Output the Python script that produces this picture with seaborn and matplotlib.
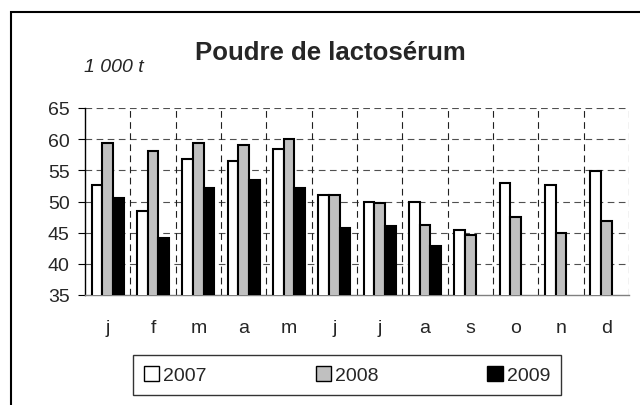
import numpy as np
import pandas as pd
import matplotlib
matplotlib.use("Agg")
import matplotlib.pyplot as plt
from matplotlib.patches import Rectangle
import seaborn as sns

# ----------------------------------------------------------------------
# data (1 000 t)
# ----------------------------------------------------------------------
months = ["j", "f", "m", "a", "m", "j", "j", "a", "s", "o", "n", "d"]
years = ["2007", "2008", "2009"]
v2007 = [52.6, 48.4, 56.8, 56.5, 58.4, 51.0, 50.0, 50.0, 45.5, 52.9, 52.6, 54.9]
v2008 = [59.4, 58.1, 59.4, 59.0, 60.0, 51.0, 49.8, 46.2, 44.6, 47.5, 44.9, 46.8]
v2009 = [50.5, 44.1, 52.1, 53.5, 52.1, 45.7, 46.1, 42.9, np.nan, np.nan, np.nan, np.nan]
colors = ["#FFFFFF", "#C0C0C0", "#000000"]

df = pd.DataFrame({"pos": range(len(months)), "2007": v2007, "2008": v2008, "2009": v2009})
long = df.melt(id_vars="pos", var_name="year", value_name="value").dropna()

sns.set_style("white")
plt.rcParams["font.family"] = ["Liberation Sans", "DejaVu Sans"]

fig = plt.figure(figsize=(6.4, 4.06), dpi=100)
ax = fig.add_axes([85 / 640, 1 - 296 / 406, (629 - 85) / 640, (296 - 109) / 406])

sns.barplot(data=long, x="pos", y="value", hue="year", hue_order=years,
            palette=colors, width=0.7, edgecolor="black", linewidth=1.5,
            saturation=1, legend=False, ax=ax, zorder=3)

ax.set_ylim(35, 65)
ax.set_xlim(-0.5, len(months) - 0.5)
ax.set_yticks(range(35, 66, 5))
ax.set_xticks(range(len(months)))
ax.set_xticklabels(months)
ax.set_xlabel("")
ax.set_ylabel("")

# dashed grid: horizontal at each 5, vertical at month boundaries
for yv in range(40, 66, 5):
    ax.axhline(yv, color="#505050", lw=0.8, ls=(0, (6, 4)), zorder=1)
for xv in np.arange(0.5, len(months), 1.0):
    ax.axvline(xv, color="#202020", lw=0.8, ls=(0, (6, 4)), zorder=1)

ax.set_xticks(np.arange(0.5, len(months), 1.0), minor=True)
ax.tick_params(axis="x", which="major", length=0, pad=17, labelsize=14)
ax.tick_params(axis="x", which="minor", direction="inout", length=9,
               width=0.8, color="#404040")
ax.tick_params(axis="y", direction="out", length=5, width=0.8, color="black",
               pad=6, labelsize=14, left=True)

for side in ["top", "right"]:
    ax.spines[side].set_visible(False)
ax.spines["left"].set_color("black")
ax.spines["left"].set_linewidth(1.0)
ax.spines["bottom"].set_color("#808080")
ax.spines["bottom"].set_linewidth(1.0)

fig.text(330 / 640, 1 - 53 / 406, "Poudre de lactosérum", ha="center", va="center",
         fontsize=18.5, fontweight="bold")
fig.text(114 / 640, 1 - 67 / 406, "1 000 t", ha="center", va="center",
         fontsize=14, style="italic")

# legend
handles = [Rectangle((0, 0), 1, 1, facecolor=c, edgecolor="black", lw=1.0) for c in colors]
fig.legend(handles, years, loc="center", bbox_to_anchor=(347 / 640, 1 - 376 / 406),
           ncol=3, frameon=True, fancybox=False, edgecolor="black", fontsize=14,
           handlelength=0.8, handleheight=0.8, handletextpad=0.2,
           columnspacing=5.6, borderpad=0.55, borderaxespad=0)
leg = fig.legends[0]
leg.get_frame().set_linewidth(1.0)

# outer frame around the chart
fig.patches.append(Rectangle((11 / 640, -0.1), 1.0, 1 - 13 / 406 + 0.1,
                             transform=fig.transFigure, fill=False,
                             edgecolor="black", lw=1.5))

fig.savefig("out.png", dpi=100)
